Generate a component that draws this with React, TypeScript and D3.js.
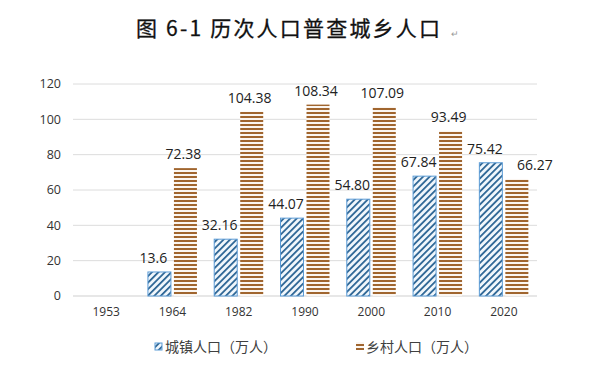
import React, { useEffect } from "react";
import * as d3 from "d3";

const years = ["1953", "1964", "1982", "1990", "2000", "2010", "2020"];
const urban = [null, 13.6, 32.16, 44.07, 54.8, 67.84, 75.42];
const rural = [null, 72.38, 104.38, 108.34, 107.09, 93.49, 66.27];
const urbanLabels = ["", "13.6", "32.16", "44.07", "54.80", "67.84", "75.42"];
const ruralLabels = ["", "72.38", "104.38", "108.34", "107.09", "93.49", "66.27"];
const yTicks = [0, 20, 40, 60, 80, 100, 120];
const seriesNames = ["城镇人口（万人）", "乡村人口（万人）"];

const W = 600;
const H = 370;
const left = 73;
const right = 537;
const top = 84;
const bottom = 296;

const BLUE = "#2F6796";
const BROWN = "#A0652E";
const numFont = "'Open Sans', 'Noto Sans', sans-serif";
const cjkFont = "'Noto Sans CJK SC', sans-serif";

export default function App() {
  useEffect(() => {
    document.body.style.margin = "0";
  }, []);

  const x = d3.scaleBand().domain(years).range([left, right]);
  const y = d3.scaleLinear().domain([0, 120]).range([bottom, top]);
  const barW = 23;
  const gap = 3;

  // label nudges like in the original (Excel moved some of them)
  const urbanDx = (i: number) => -6;
  const ruralDx = (i: number) => (i === 6 ? 18 : -2);

  return (
    <svg width={W} height={H} style={{ display: "block", background: "#fff" }}>
      <defs>
        <pattern id="diag" patternUnits="userSpaceOnUse" width="4.6" height="4.6" patternTransform="rotate(45)">
          <rect width="4.6" height="4.6" fill="#F1F7FC" />
          <rect x="0" y="0" width="1.8" height="4.6" fill={BLUE} />
        </pattern>
        <pattern id="horiz" patternUnits="userSpaceOnUse" width="4" height="4">
          <rect width="4" height="4" fill="#FBF6F1" />
          <rect x="0" y="0" width="4" height="2" fill={BROWN} />
        </pattern>
      </defs>

      <text x={136} y={36} fontFamily={cjkFont} fontSize={21} fontWeight={400} letterSpacing={2.2} fill="#111" stroke="#111" strokeWidth={0.3}>
        图 6-1 历次人口普查城乡人口
      </text>
      <text x={451} y={37} fontFamily={cjkFont} fontSize={9} fill="#999">↵</text>

      {yTicks.map((t) => (
        <g key={t}>
          <line x1={left} x2={right} y1={y(t)} y2={y(t)} stroke={t === 0 ? "#CFCFCF" : "#DCDCDC"} strokeWidth={1} />
          <text x={61} y={y(t)} dy="0.35em" textAnchor="end" fontFamily={numFont} fontSize={12.5} fill="#333">
            {t}
          </text>
        </g>
      ))}

      {years.map((yr, i) => {
        const cx = (x(yr) as number) + x.bandwidth() / 2;
        const u = urban[i];
        const r = rural[i];
        return (
          <g key={yr}>
            {u != null && (
              <g>
                <rect x={cx - gap / 2 - barW} y={y(u)} width={barW} height={y(0) - y(u)} fill="url(#diag)" stroke="#5B9BD5" strokeWidth={1} />
                <text x={cx - gap / 2 - barW / 2 + urbanDx(i)} y={y(u) - 9} textAnchor="middle" fontFamily={numFont} fontSize={14} fill="#222">
                  {urbanLabels[i]}
                </text>
              </g>
            )}
            {r != null && (
              <g>
                <rect x={cx + gap / 2} y={y(r)} width={barW} height={y(0) - y(r)} fill="url(#horiz)" />
                <text x={cx + gap / 2 + barW / 2 + ruralDx(i)} y={y(r) - 9} textAnchor="middle" fontFamily={numFont} fontSize={14} fill="#222">
                  {ruralLabels[i]}
                </text>
              </g>
            )}
            <text x={cx} y={316} textAnchor="middle" fontFamily={numFont} fontSize={12} fill="#333">
              {yr}
            </text>
          </g>
        );
      })}

      <g>
        <rect x={155} y={343} width={7} height={7} fill="url(#diag)" stroke="#5B9BD5" strokeWidth={1} />
        <text x={165} y={352} fontFamily={cjkFont} fontSize={14} fill="#404040">{seriesNames[0]}</text>
        <rect x={356} y={342} width={8} height={8} fill="url(#horiz)" />
        <text x={366} y={352} fontFamily={cjkFont} fontSize={14} fill="#404040">{seriesNames[1]}</text>
      </g>
    </svg>
  );
}
